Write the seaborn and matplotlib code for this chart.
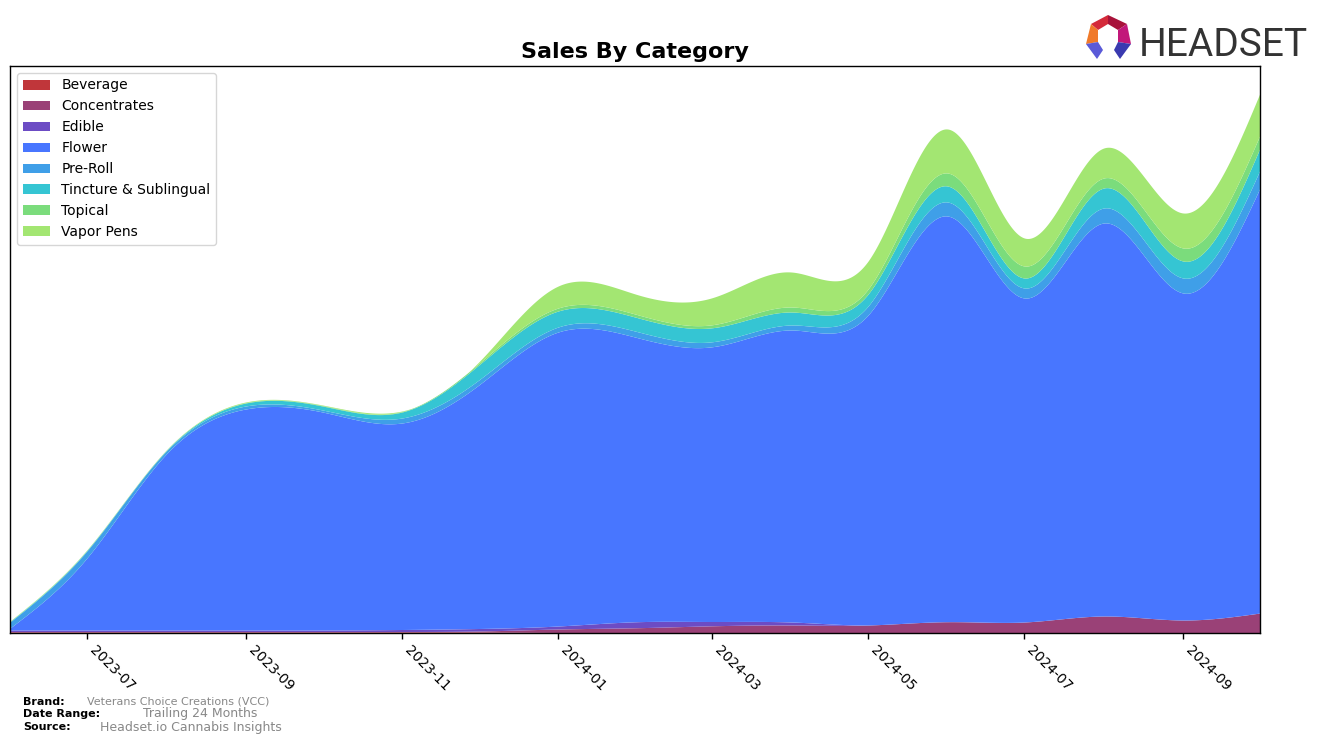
import numpy as np
import pandas as pd
import matplotlib
matplotlib.use("Agg")
import matplotlib.pyplot as plt
import matplotlib.dates as mdates
from matplotlib.patches import Polygon
import seaborn as sns

# ---- data (monthly, arbitrary sales units) ----
months = ["2023-06", "2023-07", "2023-08", "2023-09", "2023-10", "2023-11",
          "2023-12", "2024-01", "2024-02", "2024-03", "2024-04", "2024-05",
          "2024-06", "2024-07", "2024-08", "2024-09", "2024-10"]
categories = ["Beverage", "Concentrates", "Edible", "Flower", "Pre-Roll",
              "Tincture & Sublingual", "Topical", "Vapor Pens"]
beverage     = [1.0, 1.0, 1.0, 1.0, 1.0, 1.0, 1.0, 0.5, 0.3, 0.2, 0.0, 0.0, 0.0, 0.0, 0.0, 0.0, 0.0]
concentrates = [0.5, 0.5, 0.5, 0.5, 0.5, 0.5, 1.0, 3.5, 5.0, 7.0, 8.0, 8.0, 11.3, 11.0, 17.0, 13.0, 20.0]
edible       = [1.5, 1.5, 1.5, 1.5, 1.5, 2.0, 2.5, 3.0, 6.0, 4.3, 3.0, 0.0, 0.0, 0.0, 0.0, 0.0, 0.0]
flower       = [2.0, 72.0, 176.0, 221.0, 218.0, 206.5, 243.5, 294.0, 284.0, 274.7, 292.0, 310.0,
                405.7, 324.0, 393.0, 327.0, 425.0]
pre_roll     = [6.0, 7.0, 3.0, 3.0, 2.0, 5.0, 5.0, 5.0, 6.0, 5.0, 5.0, 9.0, 14.0, 10.0, 15.0, 15.0, 18.0]
tincture     = [0.5, 0.5, 0.5, 3.0, 4.0, 6.0, 15.0, 16.0, 14.0, 14.0, 13.0, 12.0, 16.0, 10.0, 20.0, 17.0, 22.0]
topical      = [0.0, 0.3, 0.2, 0.3, 0.5, 0.5, 1.5, 3.0, 3.0, 3.0, 5.0, 5.0, 13.0, 12.0, 10.0, 13.0, 13.0]
vapor_pens   = [0.5, 0.3, 0.3, 0.7, 0.5, 0.5, 1.5, 22.0, 20.0, 27.0, 35.0, 28.0, 44.0, 28.0, 30.0, 35.0, 42.0]
x_ticks = ["2023-07", "2023-09", "2023-11", "2024-01", "2024-03", "2024-05", "2024-07", "2024-09"]

colors = ["#c0363a", "#9a4177", "#6c4cc4", "#4876ff", "#3f9fe8", "#35c5d3", "#7bdc7c", "#a3e672"]

series = [beverage, concentrates, edible, flower, pre_roll, tincture, topical, vapor_pens]
df = pd.DataFrame(dict(zip(categories, series)), index=pd.to_datetime(months))


def natural_spline(x, y, xs):
    x = np.asarray(x, float); y = np.asarray(y, float)
    n = len(x); h = np.diff(x)
    A = np.zeros((n, n)); b = np.zeros(n)
    A[0, 0] = 1; A[-1, -1] = 1
    for i in range(1, n - 1):
        A[i, i - 1] = h[i - 1]; A[i, i] = 2 * (h[i - 1] + h[i]); A[i, i + 1] = h[i]
        b[i] = 3 * ((y[i + 1] - y[i]) / h[i] - (y[i] - y[i - 1]) / h[i - 1])
    c = np.linalg.solve(A, b)
    bc = (y[1:] - y[:-1]) / h - h * (2 * c[:-1] + c[1:]) / 3
    d = (c[1:] - c[:-1]) / (3 * h)
    idx = np.clip(np.searchsorted(x, xs) - 1, 0, n - 2)
    dx = xs - x[idx]
    return y[idx] + bc[idx] * dx + c[idx] * dx ** 2 + d[idx] * dx ** 3


sns.set_theme(style="white")
plt.rcParams["font.family"] = ["DejaVu Sans"]
plt.rcParams.update({"text.color": "black", "axes.labelcolor": "black",
                     "xtick.color": "black", "ytick.color": "black",
                     "axes.titlecolor": "black"})

fig = plt.figure(figsize=(13.24, 7.44), dpi=100)
ax = fig.add_axes([10 / 1324, 1 - 633 / 744, 1250 / 1324, 567 / 744])

xnum = mdates.date2num(df.index.to_pydatetime())
xs = np.linspace(xnum[0], xnum[-1], 1200)
smooth = [np.clip(natural_spline(xnum, df[c].values, xs), 0, None) for c in categories]
ax.stackplot(mdates.num2date(xs), *smooth, colors=colors, labels=categories, linewidth=0)

ax.set_xlim(mdates.num2date(xnum[0]), mdates.num2date(xnum[-1]))
ax.set_ylim(0, 567)
ax.set_yticks([])
tick_dates = pd.to_datetime(x_ticks)
ax.set_xticks(tick_dates)
ax.set_xticklabels(x_ticks, rotation=-45, ha="left", fontsize=10, color="black")
ax.tick_params(axis="x", bottom=True, length=4, width=1, color="black", pad=3)
for s in ax.spines.values():
    s.set_color("black"); s.set_linewidth(1)
ax.set_title("Sales By Category", fontsize=16, fontweight="bold", pad=6, color="black")

leg = ax.legend(loc="upper left", fontsize=10, frameon=True, borderaxespad=0.5,
                handlelength=2.0, fancybox=True)
leg.get_frame().set_edgecolor("#cccccc")
for t in leg.get_texts():
    t.set_color("black")

# footer
fig.text(23 / 1324, 1 - 702 / 744, "Brand:", fontsize=8, fontweight="bold", va="center", color="black")
fig.text(87 / 1324, 1 - 702 / 744, "Veterans Choice Creations (VCC)", fontsize=8, color="#888888", va="center")
fig.text(23 / 1324, 1 - 714 / 744, "Date Range:", fontsize=8, fontweight="bold", va="center", color="black")
fig.text(143 / 1324, 1 - 714 / 744, "Trailing 24 Months", fontsize=9, color="#888888", va="center")
fig.text(23 / 1324, 1 - 727 / 744, "Source:", fontsize=8, fontweight="bold", va="center", color="black")
fig.text(100 / 1324, 1 - 727 / 744, "Headset.io Cannabis Insights", fontsize=9, color="#888888", va="center")

# logo
def P(pts):
    return [(px / 1324, 1 - py / 744) for px, py in pts]

logo = [
    ([(1091, 24), (1108, 15), (1108, 24), (1098, 30)], "#d42a3a"),
    ([(1108, 15), (1127, 24), (1118, 30), (1108, 24)], "#a8123a"),
    ([(1091, 24), (1098, 30), (1098, 42), (1086, 44)], "#f07a2a"),
    ([(1127, 24), (1131, 44), (1118, 42), (1118, 30)], "#c2187a"),
    ([(1086, 44), (1098, 42), (1103, 50), (1097, 59)], "#5a5ad8"),
    ([(1131, 44), (1118, 42), (1114, 50), (1120, 59)], "#3a3ab0"),
]
for pts, col in logo:
    fig.patches.append(Polygon(P(pts), closed=True, transform=fig.transFigure,
                               facecolor=col, edgecolor="none"))
fig.text(1139 / 1324, 1 - 56 / 744, "HEADSET", fontsize=28, color="#333333",
         family=["Roboto", "DejaVu Sans"], va="baseline", ha="left")

fig.savefig("out.png", dpi=100)
